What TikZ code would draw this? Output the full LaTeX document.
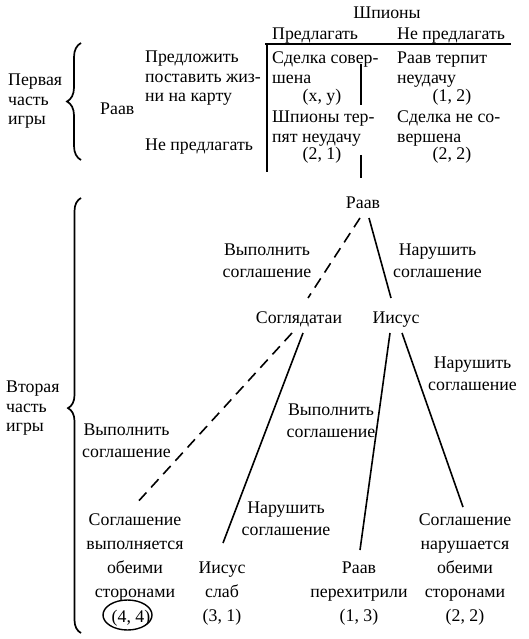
\documentclass[tikz,border=0pt]{standalone}
\usepackage{fontspec}
\setmainfont{Liberation Serif}
\usetikzlibrary{decorations.pathreplacing,calc}
\begin{document}
\begin{tikzpicture}[x=1pt,y=-1pt,
  t/.style={inner sep=0pt, font=\fontsize{17.8}{19.8}\selectfont},
  tl/.style={t, font=\fontsize{17.8}{22.5}\selectfont, align=center, anchor=north},
  leaf/.style={t, font=\fontsize{17.8}{24}\selectfont, align=center, anchor=north},
  ln/.style={line width=1.6pt},
  dashln/.style={line width=1.6pt, dash pattern=on 11pt off 7pt},
  bigbrace/.style={decorate, line width=1.7pt}]
\useasboundingbox (0,0) rectangle (529,639);

% ---- first part
\node[t, align=left, anchor=north west] (part1) at (8,73.5) {Первая\\часть\\игры};
\draw[bigbrace, decoration={brace, amplitude=14pt}] (81,160) -- (81,43);
\node[t, anchor=base west] (raav1) at (100,115) {Раав};
\node[t, align=left, anchor=north west] (offer) at (145,50.5) {Предложить\\поставить жиз-\\ни на карту};
\node[t, anchor=base west] (nooffer) at (145,150) {Не предлагать};

\node[t, anchor=base] (spies) at (387,19) {Шпионы};
\node[t, anchor=base west] (colA) at (272,40) {Предлагать};
\node[t, anchor=base west] (colB) at (397,40) {Не предлагать};
\coordinate (hl) at (265,44);
\coordinate (hr) at (511,44);
\coordinate (vb) at (267,172);
\draw[line width=1.9pt] (hl) -- (hr);
\draw[line width=1.9pt] (267,44) -- (vb);

\node[t, align=left, anchor=north west] (c11) at (272,51.5) {Сделка совер-\\шена};
\node[t, anchor=base] (p11) at (322,102) {(x, y)};
\node[t, align=left, anchor=north west] (c12) at (397,51.5) {Раав терпит\\неудачу};
\node[t, anchor=base] (p12) at (452,102) {(1, 2)};
\node[t, align=left, anchor=north west] (c21) at (272,110.5) {Шпионы тер-\\пят неудачу};
\node[t, anchor=base] (p21) at (322,160) {(2, 1)};
\node[t, align=left, anchor=north west] (c22) at (397,110.5) {Сделка не со-\\вершена};
\node[t, anchor=base] (p22) at (452,160) {(2, 2)};

\coordinate (s1) at (361,64);
\coordinate (s2) at (361,105);
\draw[line width=1.7pt] (s1) -- (s2);
\coordinate (s3) at (361,155);

% ---- second part
\node[t, align=left, anchor=north west] (part2) at (6,380.5) {Вторая\\часть\\игры};
\draw[bigbrace, decoration={brace, amplitude=13pt, aspect=0.517}] (81,633) -- (81,198);

\node[t, anchor=base] (raav2) at (363,208) {Раав};
\draw[line width=1.7pt] (s3) -- ([shift={(-2,-18)}]raav2.north);

\node[t, anchor=base] (sogl) at (299,323) {Соглядатаи};
\node[t, anchor=base] (iisus) at (396,323) {Иисус};

\draw[dashln] ([shift={(-3,10)}]raav2.base) -- ([shift={(9,-25)}]sogl.base);
\draw[ln] ([shift={(6,10)}]raav2.base) -- ([shift={(-5,-25)}]iisus.base);

\node[tl] (l1) at (267,243.5) {Выполнить\\соглашение};
\node[tl] (l2) at (437.5,243.5) {Нарушить\\соглашение};

\node[leaf] (leaf1) at (135,513.5) {Соглашение\\выполняется\\обеими\\сторонами};
\node[t, anchor=base] (pay44) at (131,622) {(4, 4)};
\draw[line width=1.4pt] (127.5,615) ellipse [x radius=24.5pt, y radius=15pt];
\node[leaf] (leaf2) at (222,561.5) {Иисус\\слаб\\(3, 1)};
\node[leaf] (leaf3) at (359,561.5) {Раав\\перехитрили\\(1, 3)};
\node[leaf] (leaf4) at (465,513.5) {Соглашение\\нарушается\\обеими\\сторонами\\(2, 2)};

\draw[dashln] ([shift={(-7,10)}]sogl.base) -- ([shift={(0,-8.5)}]leaf1.north);
\draw[ln] ([shift={(4,10)}]sogl.base) -- ([shift={(1,-18.5)}]leaf2.north);
\draw[ln] ([shift={(-6,10)}]iisus.base) -- ([shift={(1,-11.5)}]leaf3.north);
\draw[ln] ([shift={(6,10)}]iisus.base) -- ([shift={(-2,-6.5)}]leaf4.north);

\node[tl] (l3) at (472.5,356.5) {Нарушить\\соглашение};
\node[tl] (l4) at (331,403.5) {Выполнить\\соглашение};
\node[tl] (l5) at (126.5,423.5) {Выполнить\\соглашение};
\node[tl] (l6) at (286,501.5) {Нарушить\\соглашение};
\end{tikzpicture}
\end{document}
